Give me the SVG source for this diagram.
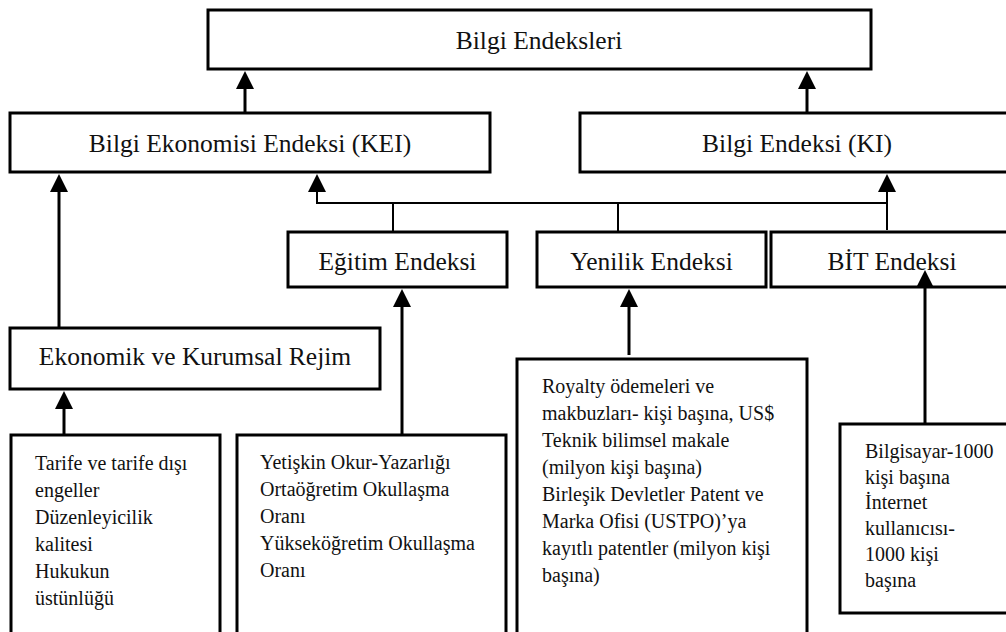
<svg xmlns="http://www.w3.org/2000/svg" width="1006" height="632" viewBox="0 0 1006 632">
<style>
.box{fill:#fff;stroke:#000;stroke-width:3}
.h{font-family:"Liberation Serif","Times New Roman",serif;font-size:25.5px;fill:#111;text-anchor:middle}
.b{font-family:"Liberation Serif","Times New Roman",serif;font-size:20px;fill:#111}
.thick{stroke:#000;stroke-width:3;fill:none}
.thin{stroke:#000;stroke-width:2;fill:none}
</style>
<defs>
<marker id="ah" viewBox="0 0 18 18" refX="2" refY="9" markerWidth="18" markerHeight="18" markerUnits="userSpaceOnUse" orient="auto">
<path d="M0,0 L18,9 L0,18 z" fill="#000"/>
</marker>
</defs>
<rect width="1006" height="632" fill="#fff"/>
<g id="connectors">
<line class="thick" x1="245" y1="113" x2="245" y2="87" marker-end="url(#ah)"/>
<line class="thick" x1="807" y1="113" x2="807" y2="87" marker-end="url(#ah)"/>
<line class="thick" x1="59" y1="328" x2="59" y2="190" marker-end="url(#ah)"/>
<line class="thin" x1="317" y1="203" x2="887" y2="203"/>
<line class="thin" x1="317" y1="204" x2="317" y2="190" marker-end="url(#ah)"/>
<line class="thin" x1="887" y1="230" x2="887" y2="190" marker-end="url(#ah)"/>
<line class="thin" x1="393" y1="203" x2="393" y2="232"/>
<line class="thin" x1="618" y1="203" x2="618" y2="232"/>
</g>
<g id="n-top"><rect class="box" x="208" y="10" width="663" height="59"/><text class="h" x="539" y="49">Bilgi Endeksleri</text></g>
<g id="n-kei"><rect class="box" x="10" y="113" width="480" height="59"/><text class="h" x="250" y="152">Bilgi Ekonomisi Endeksi (KEI)</text></g>
<g id="n-ki"><rect class="box" x="580" y="113" width="434" height="59"/><text class="h" x="797" y="152">Bilgi Endeksi (KI)</text></g>
<g id="n-egitim"><rect class="box" x="288" y="232" width="219" height="55"/><text class="h" x="397.5" y="270">Eğitim Endeksi</text></g>
<g id="n-yenilik"><rect class="box" x="537" y="232" width="229" height="55"/><text class="h" x="651.5" y="270">Yenilik Endeksi</text></g>
<g id="n-bit"><rect class="box" x="771" y="232" width="242" height="55"/><text class="h" x="892" y="270">BİT Endeksi</text></g>
<g id="n-ekonomik"><rect class="box" x="10" y="328" width="370" height="61"/><text class="h" x="195" y="365">Ekonomik ve Kurumsal Rejim</text></g>
<g id="n-box1"><rect class="box" x="11" y="435" width="209" height="210"/>
<text class="b"><tspan x="35" y="470">Tarife ve tarife dışı</tspan><tspan x="35" y="497">engeller</tspan><tspan x="35" y="524">Düzenleyicilik</tspan><tspan x="35" y="551">kalitesi</tspan><tspan x="35" y="578">Hukukun</tspan><tspan x="35" y="605">üstünlüğü</tspan></text></g>
<g id="n-box2"><rect class="box" x="237" y="435" width="269" height="210"/>
<text class="b"><tspan x="260" y="469">Yetişkin Okur-Yazarlığı</tspan><tspan x="260" y="496">Ortaöğretim Okullaşma</tspan><tspan x="260" y="523">Oranı</tspan><tspan x="260" y="550">Yükseköğretim Okullaşma</tspan><tspan x="260" y="577">Oranı</tspan></text></g>
<g id="n-box3"><rect class="box" x="517" y="359" width="290" height="290"/>
<text class="b"><tspan x="542" y="393">Royalty ödemeleri ve</tspan><tspan x="542" y="420">makbuzları- kişi başına, US$</tspan><tspan x="542" y="447">Teknik bilimsel makale</tspan><tspan x="542" y="474">(milyon kişi başına)</tspan><tspan x="542" y="501">Birleşik Devletler Patent ve</tspan><tspan x="542" y="528">Marka Ofisi (USTPO)’ya</tspan><tspan x="542" y="555">kayıtlı patentler (milyon kişi</tspan><tspan x="542" y="582">başına)</tspan></text></g>
<g id="n-box4"><rect class="box" x="840" y="424" width="180" height="189"/>
<text class="b"><tspan x="865" y="458">Bilgisayar-1000</tspan><tspan x="865" y="484">kişi başına</tspan><tspan x="865" y="509">İnternet</tspan><tspan x="865" y="535">kullanıcısı-</tspan><tspan x="865" y="561">1000 kişi</tspan><tspan x="865" y="587">başına</tspan></text></g>
<g id="connectors-up">
<line class="thick" x1="64" y1="435" x2="64" y2="407" marker-end="url(#ah)"/>
<line class="thick" x1="402" y1="435" x2="402" y2="305" marker-end="url(#ah)"/>
<line class="thick" x1="629" y1="355" x2="629" y2="305" marker-end="url(#ah)"/>
<line class="thick" x1="925" y1="424" x2="925" y2="286" marker-end="url(#ah)"/>
</g>
</svg>
